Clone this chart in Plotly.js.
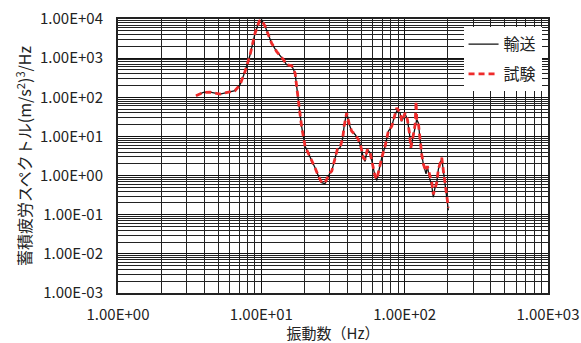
<!DOCTYPE html>
<html><head><meta charset="utf-8">
<script src="https://cdn.plot.ly/plotly-3.0.1.min.js"></script>
<style>html,body{margin:0;padding:0;background:#fff}#chart{width:581px;height:343px}</style>
</head><body><div id="chart"></div>
<script>
// 輸送 (transport) spectrum
var freqTransport = [3.5,3.94,4.39,5.15,6.55,7.1,7.7,8.34,9.04,9.68,10.07,10.6,11.8,12.8,14.3,15.0,16.3,17.2,18.1,19.1,20.2,21.9,23.7,25.0,26.4,27.8,30.2,31.0,32.7,33.9,35.4,37.0,37.8,39.4,41.1,42.7,45.1,47.5,49.4,51.5,52.9,54.9,57.4,59.9,62.1,63.9,66.6,69.2,73.0,76.9,81.3,84.3,88.1,92.9,95.4,100.7,104.5,107.9,110.4,114.0,118.3,121.4,124.6,128.0,131.5,135.1,141.0,144.0,148.6,154.5,158.5,162.0,167.4,171.8,176.5,181.5,186.3,191.4,196.8,201.8];
var psdTransport  = [110,133,136,121,147,209,457,1200,4330,8900,9400,6600,2400,1470,905,677,637,415,87,18,5.6,3.1,1.58,0.97,0.66,0.62,1.19,1.30,2.58,4.65,5.13,9.2,18.2,42,20.1,13.5,11.2,8.3,5.6,2.86,2.3,4.65,3.83,1.75,0.97,0.75,1.59,2.86,5.6,13.5,18.2,29.7,45,39.8,24.4,38,26.9,12.4,5.13,9.2,20.1,26.9,22.2,8.3,3.46,1.93,1.1,1.75,0.9,0.55,0.28,0.45,0.66,1.44,1.93,2.75,1.30,0.55,0.24,0.13];
// 試験 (test) spectrum
var freqTest = [3.5,3.94,4.39,5.15,6.55,7.1,7.7,8.34,9.04,9.68,10.07,10.6,11.8,12.8,14.3,15.0,16.3,17.2,18.1,19.1,20.2,21.9,23.7,25.0,26.4,27.8,30.2,31.0,32.7,33.9,35.4,37.0,37.8,39.4,41.1,42.7,45.1,47.5,49.4,51.5,52.9,54.9,57.4,59.9,62.1,63.9,66.6,69.2,73.0,76.9,81.3,84.3,88.1,92.9,95.4,100.7,104.5,107.9,110.4,114.0,118.3,120.1,121.4,124.6,128.0,131.5,135.1,141.0,144.0,148.6,154.5,158.5,167.4,171.8,176.5,181.5,186.3,191.4,196.8,201.8];
var psdTest  = [110,133,136,121,147,209,457,1200,4330,8900,9400,6600,2400,1470,905,677,637,415,87,18,5.6,3.1,1.58,0.97,0.66,0.66,1.19,1.30,2.58,4.65,5.13,9.2,18.2,39.8,20.1,13.5,11.2,8.3,5.6,2.86,2.58,4.65,3.83,1.75,0.97,0.80,1.59,2.86,5.6,13.5,18.2,29.7,53.5,39.8,24.4,39.8,26.9,12.4,5.13,9.2,20.1,78.7,26.9,22.2,8.3,3.46,1.93,1.30,1.75,1.07,0.66,0.33,0.66,1.44,1.93,2.86,1.30,0.60,0.27,0.152];
var seriesNames = ['輸送','試験'];
var yTickVals = [1e-3,1e-2,1e-1,1,10,100,1000,10000];
var yTickText = ['1.00E-03','1.00E-02','1.00E-01','1.00E+00','1.00E+01','1.00E+02','1.00E+03','1.00E+04'];
var xTickVals = [1,10,100,1000];
var xTickText = ['1.00E+00','1.00E+01','1.00E+02','1.00E+03'];

var FONT = '"Noto Sans CJK JP", "Noto Sans", sans-serif';
var traces = [
  {x:freqTransport, y:psdTransport, name:seriesNames[0], type:'scatter', mode:'lines',
   line:{color:'#111111', width:1.3}, legendgroup:'a'},
  {x:freqTest, y:psdTest, name:seriesNames[1], type:'scatter', mode:'lines',
   line:{color:'#ee2b2b', width:2.8, dash:'6px,4px'}, legendgroup:'b'}
];
var layout = {
  width:581, height:343,
  margin:{l:118, r:33, t:19, b:50},
  paper_bgcolor:'#fff', plot_bgcolor:'#fff',
  font:{family:FONT, size:15, color:'#222'},
  showlegend:true,
  legend:{x:0.985, xanchor:'right', y:0.97, yanchor:'top', bgcolor:'#ffffff',
          borderwidth:0, font:{family:FONT, size:16, color:'#222'},
          traceorder:'grouped', tracegroupgap:6},
  xaxis:{type:'log', range:[0,3], tickmode:'array', tickvals:xTickVals, ticktext:xTickText,
         showgrid:true, gridcolor:'#111', gridwidth:1, ticks:'', ticklabelstandoff:7,
         showline:true, mirror:true, linecolor:'#222', linewidth:2, zeroline:false,
         tickfont:{family:FONT, size:15, color:'#222'},
         minor:{dtick:'D1', showgrid:true, gridcolor:'#222', gridwidth:1, ticks:''},
         title:{text:'振動数（Hz）', font:{family:FONT, size:15, color:'#222'}, standoff:3}},
  yaxis:{type:'log', range:[-3,4], tickmode:'array', tickvals:yTickVals, ticktext:yTickText,
         showgrid:true, gridcolor:'#111', gridwidth:1, ticks:'', ticklabelstandoff:10,
         showline:true, mirror:true, linecolor:'#222', linewidth:2, zeroline:false,
         tickfont:{family:FONT, size:15, color:'#222'},
         minor:{dtick:'D1', showgrid:true, gridcolor:'#222', gridwidth:1, ticks:''},
         title:{text:'蓄積疲労スペクトル(m/s<sup>2</sup>)<sup>3</sup>/Hz', font:{family:FONT, size:16, color:'#222'}, standoff:4}}
};
Plotly.newPlot('chart', traces, layout, {displayModeBar:false, staticPlot:true});
</script></body></html>
